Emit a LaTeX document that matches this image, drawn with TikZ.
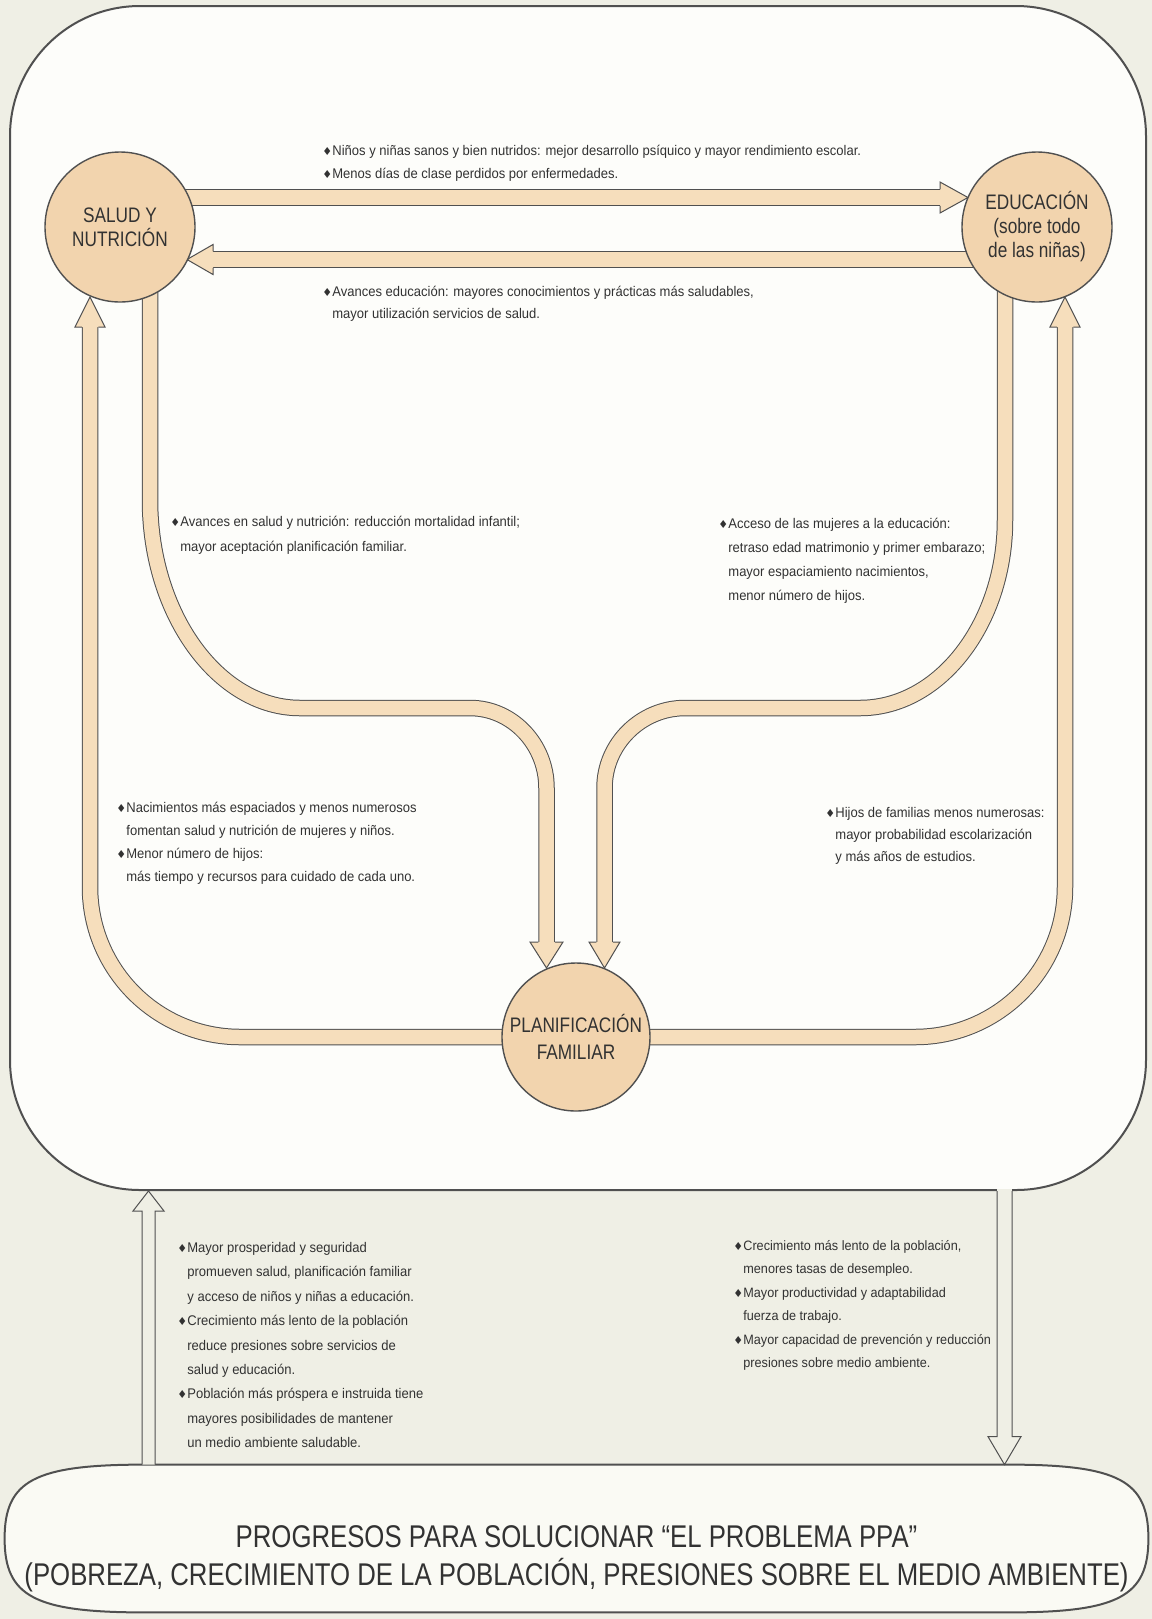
\documentclass[tikz,border=0pt]{standalone}
\usepackage{fontspec}
\setmainfont{Liberation Sans}[FakeStretch=0.93]
\newfontfamily\condf{Liberation Sans}[FakeStretch=0.82]
\newfontfamily\symf{DejaVu Sans}
\usetikzlibrary{calc}
\definecolor{pagec}{RGB}{239,239,229}
\definecolor{innerc}{RGB}{253,253,250}
\definecolor{goalc}{RGB}{250,250,244}
\definecolor{linec}{RGB}{80,80,80}
\definecolor{bandc}{RGB}{246,222,188}
\definecolor{circc}{RGB}{242,212,174}
\definecolor{textc}{RGB}{50,50,50}
\pgfdeclarelayer{back}
\pgfdeclarelayer{mid}
\pgfsetlayers{back,mid,main}
\newcommand\bulx{\makebox[5pt][l]{\symf\fontsize{5.5}{5.5}\selectfont ♦}}
\newcommand\indx{\hspace*{5pt}}
\newcommand\myhead[4]{%
  \fill[bandc] ($(#1)+(#4)$) -- (#2) -- ($(#1)-(#4)$) -- cycle;
  \draw[edge] ($(#1)+(#3)$) -- ($(#1)+(#4)$) -- (#2) -- ($(#1)-(#4)$) -- ($(#1)-(#3)$);}
\begin{document}
\begin{tikzpicture}[x=0.5pt,y=-0.5pt,
  circ/.style={circle, draw=linec, line width=0.7pt, fill=circc, inner sep=0pt, minimum size=75pt, align=center, text=textc, font=\condf\fontsize{10.5}{12}\selectfont},
  band/.style={draw=linec, line width=0.5pt, double=bandc, double distance=7.25pt},
  edge/.style={draw=linec, line width=0.5pt, line join=miter},
  txt/.style={anchor=north west, inner sep=0pt, align=left, text=textc},
  boxline/.style={draw=linec, line width=1pt}]
\useasboundingbox (0,0) rectangle (1152,1619);
\begin{pgfonlayer}{back}
  \fill[pagec] (0,0) rectangle (1152,1619);
  \node[boxline, fill=innerc, rounded corners=65pt, minimum width=568pt, minimum height=592pt, inner sep=0pt] (outer) at (578,598) {};
\end{pgfonlayer}

% main nodes
\node[circ] (sal) at (120,227) {SALUD Y\\NUTRICIÓN};
\node[circ] (edu) at (1037,227) {EDUCACIÓN\\(sobre todo\\de las niñas)};
\node[circ, minimum size=74pt, font=\condf\fontsize{10.5}{13.5}\selectfont] (pla) at (576,1037) {PLANIFICACIÓN\\FAMILIAR};
\node[minimum width=571.5pt, minimum height=73.5pt, inner sep=0pt] (goal) at (576.5,1538.5) {};
\node[font=\condf\fontsize{15.7}{19}\selectfont, align=center, text=textc, inner sep=0pt] (goaltxt) at ($(goal.center)+(0,20)$) {PROGRESOS PARA SOLUCIONAR “EL PROBLEMA PPA”\\(POBREZA, CRECIMIENTO DE LA POBLACIÓN, PRESIONES SOBRE EL MEDIO AMBIENTE)};

% texts
\node[txt, font=\fontsize{7}{11.5}\selectfont] (t1) at (322,145) {\bulx Niños y niñas sanos y bien nutridos: mejor desarrollo psíquico y mayor rendimiento escolar.\\\bulx Menos días de clase perdidos por enfermedades.};
\node[txt, font=\fontsize{7}{10.75}\selectfont] (t2) at (322,286) {\bulx Avances educación: mayores conocimientos y prácticas más saludables,\\\indx mayor utilización servicios de salud.};
\node[txt, font=\fontsize{7}{12.5}\selectfont] (t3) at (170,516) {\bulx Avances en salud y nutrición: reducción mortalidad infantil;\\\indx mayor aceptación planificación familiar.};
\node[txt, font=\fontsize{7}{12}\selectfont] (t4) at (718,518) {\bulx Acceso de las mujeres a la educación:\\\indx retraso edad matrimonio y primer embarazo;\\\indx mayor espaciamiento nacimientos,\\\indx menor número de hijos.};
\node[txt, font=\fontsize{7}{11.5}\selectfont] (t5) at (116,802) {\bulx Nacimientos más espaciados y menos numerosos\\\indx fomentan salud y nutrición de mujeres y niños.\\\bulx Menor número de hijos:\\\indx más tiempo y recursos para cuidado de cada uno.};
\node[txt, font=\fontsize{7}{11}\selectfont] (t6) at (825,807) {\bulx Hijos de familias menos numerosas:\\\indx mayor probabilidad escolarización\\\indx y más años de estudios.};
\node[txt, font=\fontsize{7}{12.2}\selectfont] (t7) at (177,1242) {\bulx Mayor prosperidad y seguridad\\\indx promueven salud, planificación familiar\\\indx y acceso de niños y niñas a educación.\\\bulx Crecimiento más lento de la población\\\indx reduce presiones sobre servicios de\\\indx salud y educación.\\\bulx Población más próspera e instruida tiene\\\indx mayores posibilidades de mantener\\\indx un medio ambiente saludable.};
\node[txt, font=\fontsize{6.8}{11.7}\selectfont] (t8) at (733,1240) {\bulx Crecimiento más lento de la población,\\\indx menores tasas de desempleo.\\\bulx Mayor productividad y adaptabilidad\\\indx fuerza de trabajo.\\\bulx Mayor capacidad de prevención y reducción\\\indx presiones sobre medio ambiente.};

% goal outline
\begin{pgfonlayer}{back}
  \draw[boxline, fill=goalc] ($(goal.north west)+(140,0)$) -- ($(goal.north east)+(-140,0)$)
    .. controls +(110,0) and +(0,-58) .. (goal.east)
    .. controls +(0,58) and +(110,0) .. ($(goal.south east)+(-140,0)$)
    -- ($(goal.south west)+(140,0)$)
    .. controls +(-110,0) and +(0,58) .. (goal.west)
    .. controls +(0,-58) and +(-110,0) .. ($(goal.north west)+(140,0)$) -- cycle;
\end{pgfonlayer}

% bands and heads
\coordinate (b1) at (940,197.5);  \coordinate (h1) at (968,197.5);
\coordinate (b2) at (213,259.5);  \coordinate (h2) at (187,259.5);
\coordinate (b3) at (90,327);     \coordinate (h3) at (90,297);
\coordinate (b4) at (1065,327);   \coordinate (h4) at (1065,297);
\coordinate (b5) at (546.5,942);  \coordinate (h5) at (546.5,968);
\coordinate (b6) at (604.5,942);  \coordinate (h6) at (604.5,968);
\coordinate (ux) at (148.5,0);
\coordinate (dx) at (1004.5,0);
\begin{pgfonlayer}{mid}
  \draw[band] (sal.center |- b1) -- (b1);
  \myhead{b1}{h1}{0,8.25}{0,15.5}
  \draw[band] (edu.center |- b2) -- (b2);
  \myhead{b2}{h2}{0,8.25}{0,15}
  \draw[band, rounded corners=75pt] (pla.center) -- (b3 |- pla.center) -- (b3);
  \myhead{b3}{h3}{8.25,0}{15,0}
  \draw[band, rounded corners=75pt] (pla.center) -- (b4 |- pla.center) -- (b4);
  \myhead{b4}{h4}{8.25,0}{15,0}
  \draw[band] ($(sal.center)+(30,0)$) -- (150,500) .. controls (150,614) and (218,708) .. (300,708)
     -- (470,708) .. controls (512,708) and (546.5,744) .. (546.5,788) -- (b5);
  \myhead{b5}{h5}{8.25,0}{16.5,0}
  \draw[band] ($(edu.center)+(-32,0)$) -- (1005,520) .. controls (1005,623) and (940,708) .. (860,708)
     -- (685,708) .. controls (641,708) and (604.5,744) .. (604.5,788) -- (b6);
  \myhead{b6}{h6}{8.25,0}{15.5,0}
  % outline arrows between outer box and goal
  \draw[edge, fill=pagec] ($(ux|-goal.north)+(-6.5,0)$) -- ($(ux|-outer.south)+(-6.5,20)$) -- ($(ux|-outer.south)+(-15.5,20)$) -- (ux|-outer.south) -- ($(ux|-outer.south)+(15.5,20)$) -- ($(ux|-outer.south)+(6.5,20)$) -- ($(ux|-goal.north)+(6.5,0)$);
  \fill[pagec] ($(dx|-outer.south)+(-7.2,-2.5)$) rectangle ($(dx|-outer.south)+(7.2,0)$);
  \draw[edge, fill=pagec] ($(dx|-outer.south)+(-7.5,0)$) -- ($(dx|-goal.north)+(-7.5,-28)$) -- ($(dx|-goal.north)+(-16.5,-28)$) -- (dx|-goal.north) -- ($(dx|-goal.north)+(16.5,-28)$) -- ($(dx|-goal.north)+(7.5,-28)$) -- ($(dx|-outer.south)+(7.5,0)$);
\end{pgfonlayer}
\end{tikzpicture}
\end{document}
